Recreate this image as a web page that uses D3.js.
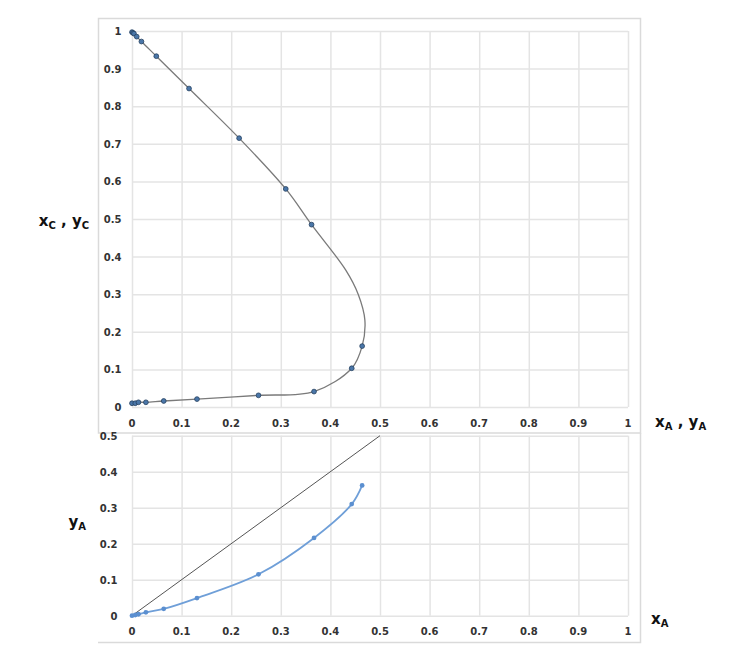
<!DOCTYPE html>
<html>
<head>
<meta charset="utf-8">
<script src="https://cdn.jsdelivr.net/npm/d3@7"></script>
<style>
  body { margin: 0; background: #fff; }
  text { font-family: "DejaVu Sans", sans-serif; }
</style>
</head>
<body>
<svg class="chart"></svg>
<script>
// raffinate phase (lower branch of binodal), also x of the distribution plot
const raffXA = [0, 0.0066, 0.013, 0.028, 0.064, 0.131, 0.255, 0.367, 0.443, 0.464]
const raffXC = [0.010, 0.010, 0.0125, 0.0125, 0.016, 0.021, 0.031, 0.041, 0.103, 0.162]
// extract phase (upper branch), x_A of extract = y_A of the distribution plot
const extYA = [0, 0.002, 0.004, 0.0095, 0.019, 0.049, 0.115, 0.216, 0.31, 0.362]
const extYC = [0.997, 0.995, 0.993, 0.985, 0.972, 0.933, 0.847, 0.715, 0.58, 0.485]
// points of the fitted curve round the plait point (no markers there)
const plaitXA = [0.4695, 0.456, 0.431]
const plaitXC = [0.231, 0.30, 0.364]
// the y = x reference line
const diagX = [0, 0.5]
const diagY = [0, 0.5]

const xTicks = [0, 0.1, 0.2, 0.3, 0.4, 0.5, 0.6, 0.7, 0.8, 0.9, 1]
const topYTicks = [0, 0.1, 0.2, 0.3, 0.4, 0.5, 0.6, 0.7, 0.8, 0.9, 1]
const botYTicks = [0, 0.1, 0.2, 0.3, 0.4, 0.5]

const svg = d3.select('.chart')
  .attr('width', 729)
  .attr('height', 660)

const gridColor = '#e4e4e4'
const frameColor = '#dadada'
const labelColor = '#333'

// frames
svg.append('rect')
  .attr('x', 98.5).attr('y', 18.5)
  .attr('width', 542).attr('height', 414.5)
  .attr('fill', 'none').attr('stroke', frameColor).attr('stroke-width', 1.5)

svg.append('path')
  .attr('d', 'M640.5,433 V642.5 H98')
  .attr('fill', 'none').attr('stroke', frameColor).attr('stroke-width', 1.5)

// scales
const xTop = d3.scaleLinear().domain([0, 1]).range([132, 628])
const yTop = d3.scaleLinear().domain([0, 1]).range([407, 31])
const xBot = d3.scaleLinear().domain([0, 1]).range([132, 628])
const yBot = d3.scaleLinear().domain([0, 0.5]).range([615.7, 435.7])

const fmt = d => d3.format('~g')(d)

function drawPanel(x, y, yTicks, xLabelY, yLabelX) {
  const g = svg.append('g')

  // grid via axes
  g.append('g')
    .attr('transform', `translate(0,${y.range()[0]})`)
    .call(d3.axisBottom(x).tickValues(xTicks).tickSize(-(y.range()[0] - y.range()[1])).tickFormat(''))
    .call(a => a.select('.domain').remove())
    .call(a => a.selectAll('line').attr('stroke', gridColor).attr('stroke-width', 1.5))

  g.append('g')
    .attr('transform', `translate(${x.range()[0]},0)`)
    .call(d3.axisLeft(y).tickValues(yTicks).tickSize(-(x.range()[1] - x.range()[0])).tickFormat(''))
    .call(a => a.select('.domain').remove())
    .call(a => a.selectAll('line').attr('stroke', gridColor).attr('stroke-width', 1.5))

  // tick labels
  g.selectAll('.xl')
    .data(xTicks)
    .enter().append('text')
    .attr('x', d => x(d))
    .attr('y', xLabelY)
    .attr('text-anchor', 'middle')
    .attr('font-size', 10)
    .attr('font-weight', 'bold')
    .attr('fill', labelColor)
    .text(fmt)

  g.selectAll('.yl')
    .data(yTicks)
    .enter().append('text')
    .attr('x', yLabelX)
    .attr('y', d => y(d) + 4)
    .attr('text-anchor', 'end')
    .attr('font-size', 10)
    .attr('font-weight', 'bold')
    .attr('fill', labelColor)
    .text(fmt)
  return g
}

const gTop = drawPanel(xTop, yTop, topYTicks, 427, 121.5)
const gBot = drawPanel(xBot, yBot, botYTicks, 635, 117.5)

// binodal curve: raffinate -> plait region -> extract
const raff = raffXA.map((d, i) => [d, raffXC[i]])
const ext = extYA.map((d, i) => [d, extYC[i]])
const plait = plaitXA.map((d, i) => [d, plaitXC[i]])
const binodal = raff.concat(plait, ext.slice().reverse())

const lineTop = d3.line()
  .x(d => xTop(d[0]))
  .y(d => yTop(d[1]))
  .curve(d3.curveCatmullRom.alpha(0.5))

gTop.append('path')
  .attr('d', lineTop(binodal))
  .attr('fill', 'none')
  .attr('stroke', '#7a7a7a')
  .attr('stroke-width', 1.3)

gTop.selectAll('.pt')
  .data(raff.concat(ext))
  .enter().append('circle')
  .attr('cx', d => xTop(d[0]))
  .attr('cy', d => yTop(d[1]))
  .attr('r', 2.4)
  .attr('fill', '#4a76a8')
  .attr('stroke', '#24405f')
  .attr('stroke-width', 0.8)

// distribution plot
const diag = diagX.map((d, i) => [d, diagY[i]])
gBot.append('path')
  .attr('d', d3.line().x(d => xBot(d[0])).y(d => yBot(d[1]))(diag))
  .attr('fill', 'none')
  .attr('stroke', '#555')
  .attr('stroke-width', 1)

const dist = raffXA.map((d, i) => [d, extYA[i]])
gBot.append('path')
  .attr('d', d3.line().x(d => xBot(d[0])).y(d => yBot(d[1])).curve(d3.curveCatmullRom.alpha(0.5))(dist))
  .attr('fill', 'none')
  .attr('stroke', '#6f9fd8')
  .attr('stroke-width', 1.8)

gBot.selectAll('.dp')
  .data(dist)
  .enter().append('circle')
  .attr('cx', d => xBot(d[0]))
  .attr('cy', d => yBot(d[1]))
  .attr('r', 2.4)
  .attr('fill', '#5b8fd0')

// axis titles with subscripts
function title(xPos, yPos, parts, anchor) {
  const t = svg.append('text')
    .attr('x', xPos).attr('y', yPos)
    .attr('text-anchor', anchor)
    .attr('font-weight', 'bold')
    .attr('font-size', 15)
    .attr('fill', '#111')
  parts.forEach(p => {
    const s = t.append('tspan').text(p[0])
    if (p[1] === 'sub') s.attr('font-size', 10).attr('dy', 3)
    else if (p[1] === 'back') s.attr('dy', -3)
  })
}

title(89, 226, [['x'], ['C', 'sub'], [' , ', 'back'], ['y'], ['C', 'sub']], 'end')
title(655, 427, [['x'], ['A', 'sub'], [' , ', 'back'], ['y'], ['A', 'sub']], 'start')
title(86, 527, [['y'], ['A', 'sub']], 'end')
title(651, 624, [['x'], ['A', 'sub']], 'start')
</script>
</body>
</html>
